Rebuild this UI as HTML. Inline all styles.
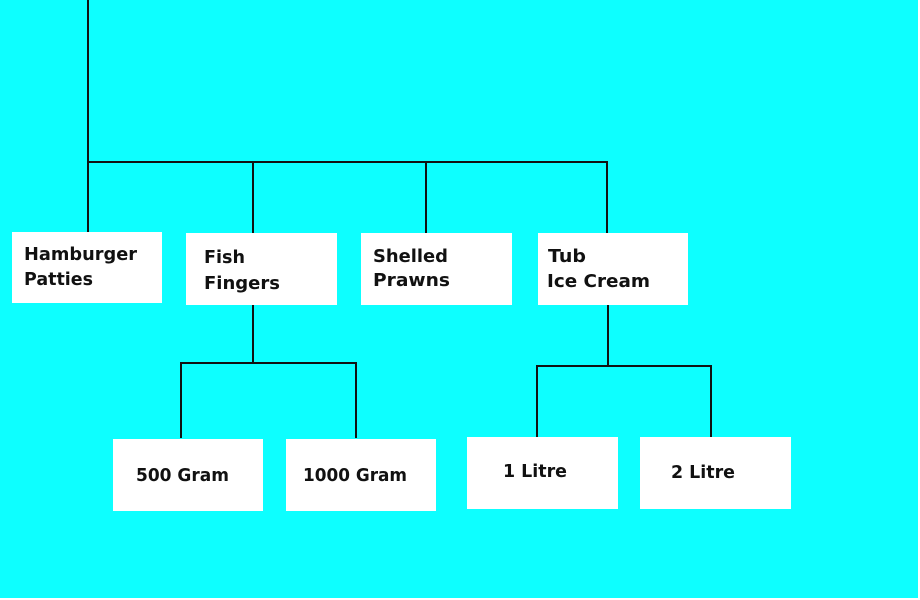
<!DOCTYPE html>
<html><head><style>
html,body{margin:0;padding:0;background:#0dffff;}
svg{display:block}
text{font-family:"DejaVu Sans","Liberation Sans",sans-serif;font-weight:bold;font-size:18px;fill:#111;}
</style></head><body>
<svg width="920" height="600" xmlns="http://www.w3.org/2000/svg">
<rect x="0" y="0" width="920" height="600" fill="#fff"/>
<rect x="0" y="0" width="918" height="598" fill="#0dffff"/>
<g stroke="#111" stroke-width="2" fill="none">
<line x1="88" y1="0" x2="88" y2="232"/>
<line x1="88" y1="162" x2="608" y2="162"/>
<line x1="253" y1="162" x2="253" y2="233"/>
<line x1="426" y1="162" x2="426" y2="233"/>
<line x1="607" y1="162" x2="607" y2="233"/>
<line x1="253" y1="305" x2="253" y2="363"/>
<polyline points="181,438 181,363 356,363 356,438"/>
<line x1="608" y1="305" x2="608" y2="366"/>
<polyline points="537,437 537,366 711,366 711,437"/>
</g>
<g fill="#fff">
<rect x="12" y="232" width="150" height="71"/>
<rect x="186" y="233" width="151" height="72"/>
<rect x="361" y="233" width="151" height="72"/>
<rect x="538" y="233" width="150" height="72"/>
<rect x="113" y="439" width="150" height="72"/>
<rect x="286" y="439" width="150" height="72"/>
<rect x="467" y="437" width="151" height="72"/>
<rect x="640" y="437" width="151" height="72"/>
</g>
<text x="24" y="260" textLength="113" lengthAdjust="spacingAndGlyphs">Hamburger</text>
<text x="24" y="285" textLength="69" lengthAdjust="spacingAndGlyphs">Patties</text>
<text x="204" y="263" textLength="41" lengthAdjust="spacingAndGlyphs">Fish</text>
<text x="204" y="289" textLength="76" lengthAdjust="spacingAndGlyphs">Fingers</text>
<text x="373" y="262" textLength="75" lengthAdjust="spacingAndGlyphs">Shelled</text>
<text x="373" y="286" textLength="77" lengthAdjust="spacingAndGlyphs">Prawns</text>
<text x="548" y="262" textLength="38" lengthAdjust="spacingAndGlyphs">Tub</text>
<text x="547" y="287" textLength="103" lengthAdjust="spacingAndGlyphs">Ice Cream</text>
<text x="136" y="481" textLength="93" lengthAdjust="spacingAndGlyphs">500 Gram</text>
<text x="303" y="481" textLength="104" lengthAdjust="spacingAndGlyphs">1000 Gram</text>
<text x="503" y="477" textLength="64" lengthAdjust="spacingAndGlyphs">1 Litre</text>
<text x="671" y="478" textLength="64" lengthAdjust="spacingAndGlyphs">2 Litre</text>
</svg>
</body></html>
